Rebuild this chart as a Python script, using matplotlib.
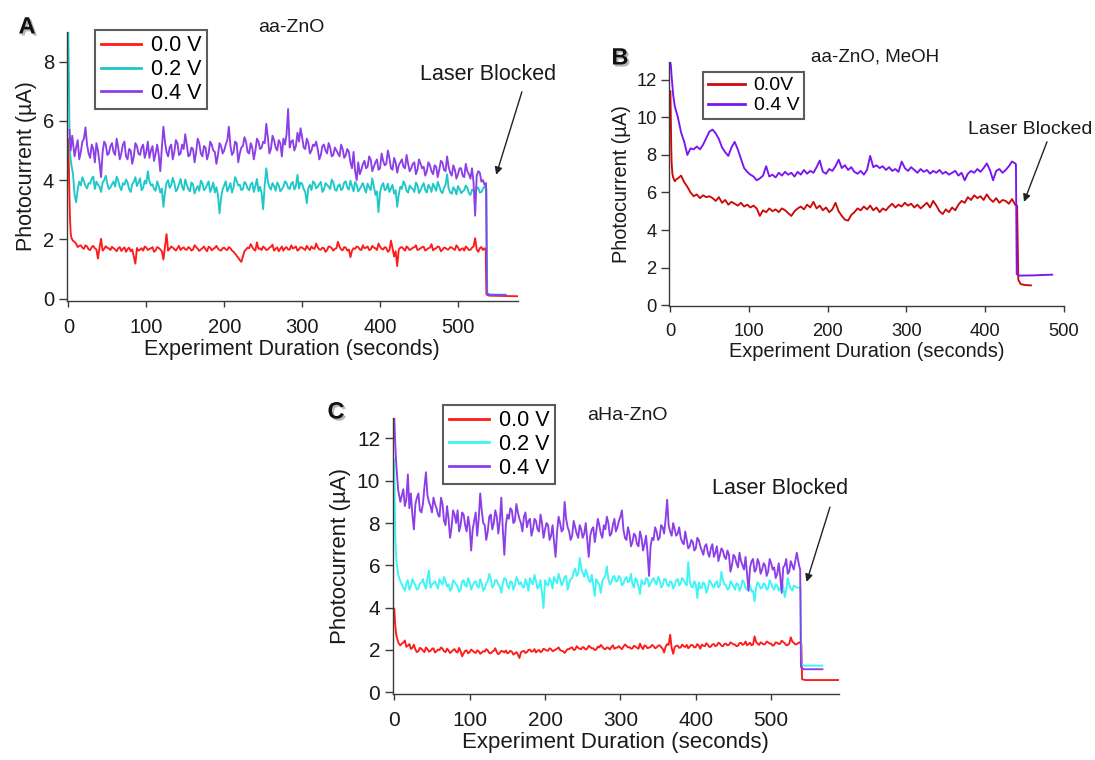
import numpy as np
import matplotlib.pyplot as plt
import matplotlib.patheffects as pe

plt.rcParams['font.family'] = ['Liberation Sans', 'DejaVu Sans']

W, H = 1095, 760

# ---------------- A: aa-ZnO (2 s samples from t = 8 s) ----------------
a_red_head_t = [0, 1, 2, 3, 4, 6]
a_red_head = [5.4, 4.0, 2.8, 2.2, 2.05, 1.95]
a_red = [1.92, 1.85, 1.74, 1.78, 1.80, 1.72, 1.68, 1.80, 1.76, 1.66, 1.64, 1.74,
         1.78, 1.70, 1.66, 1.35, 1.72, 2.02, 1.62, 1.68, 1.77, 1.72, 1.69, 1.64,
         1.75, 1.70, 1.66, 1.60, 1.70, 1.74, 1.61, 1.68, 1.73, 1.58, 1.67, 1.72,
         1.60, 1.66, 1.42, 1.18, 1.71, 1.62, 1.65, 1.70, 1.62, 1.76, 1.72, 1.64,
         1.68, 1.70, 1.74, 1.58, 1.63, 1.74, 1.71, 1.66, 1.60, 1.32, 1.75, 2.18,
         1.62, 1.68, 1.76, 1.72, 1.67, 1.62, 1.70, 1.78, 1.64, 1.70, 1.73, 1.66,
         1.65, 1.74, 1.70, 1.62, 1.66, 1.80, 1.74, 1.68, 1.61, 1.66, 1.70, 1.76,
         1.67, 1.60, 1.75, 1.72, 1.63, 1.68, 1.71, 1.78, 1.69, 1.64, 1.62, 1.70,
         1.72, 1.66, 1.64, 1.74, 1.70, 1.62, 1.58, 1.52, 1.45, 1.38, 1.30, 1.24,
         1.42, 1.60, 1.66, 1.72, 1.70, 1.84, 1.74, 1.66, 1.62, 1.90, 1.68, 1.70,
         1.64, 1.76, 1.71, 1.64, 1.66, 1.72, 1.75, 1.82, 1.62, 1.68, 1.73, 1.60,
         1.68, 1.76, 1.62, 1.70, 1.74, 1.66, 1.65, 1.80, 1.69, 1.72, 1.76, 1.62,
         1.66, 1.74, 1.72, 1.68, 1.64, 1.78, 1.70, 1.64, 1.76, 1.70, 1.68, 1.86,
         1.73, 1.66, 1.65, 1.72, 1.70, 1.58, 1.64, 1.76, 1.75, 1.70, 1.62, 1.68,
         1.70, 1.92, 1.75, 1.66, 1.63, 1.74, 1.72, 1.62, 1.66, 1.40, 1.62, 1.70,
         1.68, 1.76, 1.74, 1.66, 1.64, 1.80, 1.70, 1.72, 1.76, 1.64, 1.66, 1.78,
         1.72, 1.70, 1.64, 1.86, 1.75, 1.68, 1.66, 1.74, 1.71, 1.58, 1.63, 1.96,
         1.70, 1.42, 1.60, 1.10, 1.66, 1.72, 1.74, 1.68, 1.62, 1.76, 1.71, 1.64,
         1.67, 1.72, 1.73, 1.80, 1.64, 1.66, 1.70, 1.74, 1.75, 1.62, 1.66, 1.70,
         1.72, 1.84, 1.63, 1.68, 1.70, 1.76, 1.74, 1.60, 1.65, 1.72, 1.71, 1.66,
         1.66, 1.74, 1.72, 1.68, 1.64, 1.80, 1.73, 1.62, 1.67, 1.70, 1.62, 1.76,
         1.71, 1.64, 1.65, 1.72, 1.76, 2.04, 1.66, 1.58, 1.70, 1.74, 1.64, 1.70]
a_red_tail_t = [535.5, 536.5, 540, 577]
a_red_tail = [1.66, 0.14, 0.10, 0.08]

a_cyan_head_t = [0, 0.5, 1, 1.5, 2, 3, 4, 6]
a_cyan_head = [9.0, 8.0, 6.8, 5.6, 5.0, 4.7, 4.5, 4.2]
a_cyan = [3.50, 3.25, 3.70, 3.95, 3.82, 4.10, 3.96, 3.80, 3.72, 3.90, 3.88, 4.05,
          4.12, 3.70, 3.95, 3.85, 3.78, 3.60, 3.92, 4.00, 4.15, 3.88, 3.70, 3.75,
          3.86, 3.95, 3.78, 4.12, 3.98, 3.78, 3.66, 3.90, 3.84, 4.02, 3.92, 3.70,
          3.60, 3.86, 3.94, 4.10, 3.80, 3.92, 4.06, 3.66, 3.74, 3.98, 3.88, 4.30,
          3.96, 3.82, 3.86, 3.70, 3.64, 3.96, 3.80, 3.58, 3.72, 3.10, 3.58, 3.90,
          4.00, 3.74, 3.82, 4.08, 3.90, 3.62, 3.70, 3.86, 4.04, 3.78, 3.66, 4.02,
          3.84, 3.70, 3.62, 3.92, 3.86, 3.55, 3.70, 3.80, 3.64, 3.98, 3.90, 3.66,
          3.72, 3.84, 3.96, 3.60, 3.74, 3.92, 3.58, 3.76, 3.50, 2.88, 3.40, 3.70,
          3.82, 3.96, 3.62, 3.74, 3.90, 3.58, 3.76, 4.10, 3.98, 3.82, 3.84, 3.66,
          3.70, 3.94, 3.88, 3.72, 3.66, 3.86, 3.92, 3.60, 3.80, 4.04, 3.62, 3.78,
          3.56, 3.02, 3.84, 4.40, 3.96, 3.76, 3.68, 3.90, 3.80, 3.64, 3.92, 3.82,
          3.62, 3.70, 3.78, 3.96, 3.90, 3.74, 3.70, 3.88, 3.94, 3.68, 3.80, 4.18,
          3.72, 3.92, 3.88, 3.70, 3.60, 3.22, 3.74, 3.84, 3.66, 3.96, 3.90, 3.72,
          3.78, 3.86, 3.94, 3.60, 3.68, 3.90, 3.84, 3.78, 3.70, 4.02, 3.92, 3.68,
          3.64, 3.80, 3.86, 3.66, 3.72, 3.92, 3.96, 3.74, 3.68, 3.98, 3.80, 3.62,
          3.94, 3.84, 3.62, 3.70, 3.80, 3.90, 3.72, 3.58, 3.88, 3.76, 3.66, 4.06,
          3.80, 3.50, 3.62, 2.92, 3.58, 3.80, 3.90, 3.66, 3.70, 3.88, 3.60, 3.72,
          3.84, 3.54, 3.66, 3.10, 3.52, 3.78, 3.70, 3.96, 3.86, 3.64, 3.58, 3.82,
          3.74, 3.70, 3.60, 3.92, 3.82, 3.56, 3.66, 3.80, 3.90, 3.66, 3.58, 3.84,
          3.76, 3.60, 3.88, 3.76, 3.64, 3.94, 3.80, 3.62, 3.56, 3.74, 3.84, 4.20,
          3.72, 3.58, 3.54, 3.76, 3.68, 3.52, 3.80, 3.70, 3.56, 3.62, 3.66, 3.82,
          3.74, 3.56, 3.50, 3.68, 3.64, 3.50, 3.76, 3.74, 3.58, 3.60, 3.70, 3.80]
a_cyan_tail_t = [536.5, 537.5, 541, 561]
a_cyan_tail = [3.70, 0.18, 0.14, 0.13]

a_purp_head_t = [1.5, 3, 5]
a_purp_head = [5.7, 5.0, 5.5]
a_purp = [4.80, 5.10, 5.35, 4.70, 4.95, 5.30, 5.40, 5.78, 5.20, 4.90, 4.75, 5.20,
          5.05, 4.60, 5.25, 5.00, 4.60, 4.10, 4.95, 5.30, 5.20, 4.85, 4.90, 5.15,
          5.25, 4.95, 4.85, 5.40, 5.10, 4.70, 4.90, 5.20, 5.30, 4.80, 4.70, 5.05,
          5.00, 4.55, 4.80, 5.25, 5.15, 4.90, 4.85, 5.10, 5.20, 4.75, 4.95, 5.30,
          4.75, 5.00, 5.15, 4.65, 4.90, 5.20, 4.85, 4.30, 5.10, 5.80, 5.30, 4.95,
          4.80, 5.10, 5.20, 4.70, 4.95, 5.35, 5.25, 4.85, 4.90, 5.20, 5.05, 5.55,
          5.20, 4.80, 4.85, 5.10, 5.05, 4.60, 4.95, 5.40, 5.25, 4.90, 4.80, 5.15,
          5.10, 4.70, 4.90, 5.30, 5.20, 5.00, 4.95, 4.55, 4.85, 5.25, 5.15, 4.90,
          5.00, 5.20, 5.35, 5.80, 5.15, 4.85, 4.95, 5.30, 5.25, 4.60, 4.90, 5.10,
          5.15, 5.45, 5.30, 4.95, 4.90, 5.25, 5.10, 4.70, 5.00, 5.40, 5.30, 5.05,
          5.10, 5.30, 5.25, 5.90, 5.45, 4.90, 5.05, 5.50, 5.35, 5.10, 5.00, 5.35,
          5.25, 4.80, 5.40, 5.20, 5.55, 6.40, 5.10, 5.30, 5.35, 5.00, 5.15, 5.60,
          5.30, 5.75, 5.45, 5.10, 5.05, 5.40, 5.25, 4.90, 5.00, 5.20, 5.15, 5.30,
          5.05, 4.70, 4.85, 5.15, 5.20, 5.00, 4.90, 5.25, 5.10, 4.80, 4.85, 5.10,
          5.00, 4.90, 4.80, 5.20, 5.05, 4.75, 4.85, 5.05, 4.95, 4.60, 4.40, 4.95,
          4.30, 4.00, 4.60, 4.20, 4.35, 4.55, 4.65, 4.40, 4.45, 4.80, 4.70, 4.30,
          4.45, 4.60, 4.70, 4.35, 4.40, 4.90, 4.65, 4.50, 4.55, 5.00, 4.75, 4.40,
          4.35, 4.75, 4.60, 4.25, 4.50, 4.60, 4.70, 4.45, 4.40, 4.85, 4.55, 4.30,
          4.40, 4.55, 4.60, 4.20, 4.35, 4.70, 4.55, 4.40, 4.45, 4.15, 4.30, 4.60,
          4.50, 4.30, 4.20, 4.50, 4.45, 4.10, 4.35, 4.65, 4.60, 4.35, 4.30, 4.80,
          4.45, 4.25, 4.15, 4.50, 4.35, 4.05, 4.20, 4.40, 4.40, 4.15, 4.10, 4.55,
          4.30, 4.20, 4.05, 4.40, 3.90, 2.80, 4.15, 4.30, 4.25, 3.95, 4.00, 3.85]
a_purp_tail_t = [536, 537, 541, 561]
a_purp_tail = [3.90, 0.16, 0.12, 0.12]

# ---------------- B: aa-ZnO, MeOH (4 s samples from t = 10 s) ----------------
b_red_head_t = [0, 0.5, 1, 1.5, 2, 3, 4, 6, 8]
b_red_head = [11.4, 11.4, 10.0, 8.5, 7.6, 7.0, 6.8, 6.6, 6.7]
b_red = [6.75, 6.90, 6.55, 6.30, 6.00, 5.80, 5.90, 5.70, 5.85, 5.75, 5.80, 5.70,
         5.55, 5.75, 5.45, 5.60, 5.35, 5.50, 5.40, 5.30, 5.45, 5.25, 5.35, 5.20,
         5.30, 5.15, 4.75, 5.05, 4.95, 5.15, 5.00, 5.10, 4.95, 5.15, 5.05, 4.90,
         4.75, 5.00, 5.15, 5.25, 5.10, 5.35, 5.20, 5.50, 5.15, 5.30, 5.05, 5.20,
         4.95, 5.10, 5.45, 5.00, 4.75, 4.55, 4.50, 4.80, 4.95, 5.15, 5.05, 5.25,
         5.10, 5.30, 5.05, 5.20, 4.95, 5.15, 5.05, 5.25, 5.40, 5.20, 5.35, 5.25,
         5.45, 5.30, 5.40, 5.20, 5.35, 5.15, 5.30, 5.45, 5.20, 5.55, 5.30, 5.00,
         4.85, 5.10, 4.95, 5.20, 5.05, 5.35, 5.55, 5.45, 5.75, 5.60, 5.85, 5.70,
         5.80, 5.60, 5.90, 5.65, 5.50, 5.70, 5.45, 5.60, 5.55, 5.40, 5.65, 5.35]
b_red_tail_t = [440.5, 442, 445, 450, 458]
b_red_tail = [5.30, 1.35, 1.12, 1.07, 1.05]

b_vio_head_t = [0, 1, 2, 4, 6, 8]
b_vio_head = [13.0, 12.8, 12.2, 11.2, 10.6, 10.3]
b_vio = [10.0, 9.20, 8.70, 8.00, 8.35, 8.30, 8.45, 8.30, 8.55, 8.90, 9.25, 9.35,
         9.15, 8.85, 8.40, 8.15, 7.95, 8.40, 8.70, 8.30, 7.80, 7.30, 7.10, 6.95,
         6.85, 6.65, 6.75, 6.90, 7.40, 6.85, 6.95, 6.80, 7.05, 6.90, 7.10, 6.95,
         7.05, 6.85, 7.10, 6.95, 7.20, 7.00, 7.15, 7.05, 7.35, 7.70, 7.10, 7.00,
         7.25, 7.15, 7.40, 7.75, 7.30, 7.45, 7.20, 7.35, 7.10, 7.00, 7.15, 6.95,
         7.20, 7.95, 7.35, 7.45, 7.30, 7.40, 7.20, 7.35, 7.15, 7.25, 7.10, 7.65,
         7.30, 7.15, 7.35, 7.20, 7.05, 7.25, 7.10, 7.20, 7.00, 7.15, 7.05, 7.20,
         7.00, 7.10, 6.95, 7.05, 7.15, 6.90, 7.05, 6.65, 7.00, 7.15, 7.05, 7.25,
         7.10, 7.30, 7.55, 7.20, 6.65, 7.15, 7.25, 7.05, 7.20, 7.40, 7.65, 7.55]
b_vio_tail_t = [439, 440, 443, 460, 485]
b_vio_tail = [7.50, 1.65, 1.57, 1.58, 1.62]

# ---------------- C: aHa-ZnO (2 s samples from t = 8 s) ----------------
c_red_head_t = [0, 1, 2, 3, 5, 6]
c_red_head = [3.95, 3.3, 2.9, 2.65, 2.4, 2.3]
c_red = [2.22, 2.30, 2.35, 2.45, 2.15, 2.20, 2.28, 2.05, 2.10, 2.25, 2.02, 1.90,
         1.95, 2.10, 2.06, 1.98, 1.90, 2.12, 2.04, 1.92, 1.96, 2.05, 2.08, 1.88,
         1.94, 2.02, 2.00, 2.12, 2.06, 1.94, 1.90, 2.06, 1.98, 1.86, 1.92, 2.00,
         2.04, 1.92, 1.88, 2.10, 1.94, 1.70, 1.84, 1.96, 1.98, 1.84, 1.90, 2.02,
         1.96, 1.90, 1.86, 1.98, 1.94, 1.82, 1.88, 1.94, 1.92, 2.04, 1.98, 1.86,
         1.84, 1.92, 1.96, 2.08, 1.90, 1.80, 1.86, 1.96, 1.94, 1.88, 1.98, 1.84,
         1.88, 1.96, 1.92, 1.78, 1.84, 1.90, 1.78, 1.62, 1.88, 1.94, 1.96, 1.86,
         1.90, 2.00, 2.02, 1.92, 1.94, 2.04, 1.88, 1.96, 2.00, 1.90, 1.94, 2.06,
         2.02, 1.98, 1.96, 2.08, 2.04, 1.94, 1.98, 2.02, 2.06, 2.12, 2.00, 1.96,
         1.94, 1.86, 1.96, 2.04, 2.04, 2.10, 2.12, 2.00, 2.02, 2.18, 2.10, 2.06,
         2.04, 2.14, 2.10, 2.02, 2.06, 2.20, 2.14, 2.08, 2.08, 2.00, 2.02, 2.16,
         2.12, 2.24, 2.16, 2.06, 2.04, 2.12, 2.10, 2.02, 2.14, 2.22, 2.06, 2.10,
         2.12, 2.18, 2.10, 2.04, 2.16, 2.26, 2.20, 2.12, 2.14, 2.06, 2.08, 2.20,
         2.16, 2.10, 2.06, 2.30, 2.14, 2.04, 2.22, 2.18, 2.08, 2.12, 2.14, 2.24,
         2.18, 2.08, 2.12, 2.20, 2.22, 2.14, 2.06, 1.88, 2.16, 2.28, 2.24, 2.72,
         2.10, 1.82, 2.14, 2.20, 2.20, 2.10, 2.12, 2.26, 2.18, 2.14, 2.24, 2.08,
         2.16, 2.24, 2.22, 2.12, 2.14, 2.28, 2.20, 2.06, 2.26, 2.20, 2.18, 2.32,
         2.24, 2.14, 2.16, 2.26, 2.28, 2.18, 2.22, 2.34, 2.30, 2.20, 2.18, 2.28,
         2.30, 2.22, 2.24, 2.36, 2.32, 2.26, 2.26, 2.18, 2.20, 2.32, 2.34, 2.24,
         2.28, 2.40, 2.22, 2.28, 2.34, 2.22, 2.26, 2.64, 2.38, 2.30, 2.24, 2.36,
         2.32, 2.26, 2.28, 2.40, 2.36, 2.30, 2.30, 2.20, 2.24, 2.36, 2.34, 2.28,
         2.30, 2.44, 2.38, 2.32, 2.22, 2.24, 2.30, 2.60, 2.40, 2.34, 2.26, 2.28]
c_red_tail_t = [537, 540, 541, 545, 590]
c_red_tail = [2.36, 2.30, 0.62, 0.58, 0.58]

c_cyan_head_t = [0, 0.7, 1.3, 2, 3, 4, 5, 6.5]
c_cyan_head = [11.0, 9.2, 7.5, 6.7, 6.2, 5.9, 5.6, 5.4]
c_cyan = [5.25, 5.10, 4.95, 4.80, 5.15, 5.30, 4.85, 5.00, 5.35, 5.20, 5.05, 4.85,
          4.90, 5.15, 5.20, 5.35, 5.05, 4.90, 5.40, 5.75, 4.95, 5.10, 5.15, 5.25,
          5.05, 4.90, 5.35, 5.20, 5.10, 5.45, 5.25, 5.00, 5.10, 4.80, 4.90, 5.30,
          5.20, 5.10, 5.00, 4.75, 4.85, 5.25, 5.30, 5.05, 5.00, 5.40, 5.20, 4.85,
          5.05, 5.20, 5.25, 5.00, 4.95, 5.35, 5.15, 4.80, 4.90, 5.15, 5.25, 5.60,
          5.35, 4.95, 5.05, 5.30, 5.30, 5.10, 5.00, 4.70, 5.15, 5.40, 5.35, 5.05,
          4.90, 5.25, 5.20, 4.85, 5.05, 5.45, 5.30, 5.10, 5.20, 5.00, 4.95, 5.35,
          5.15, 4.80, 5.40, 5.20, 5.10, 5.55, 5.25, 4.90, 5.00, 5.30, 4.70, 3.98,
          5.30, 5.10, 5.05, 5.40, 5.25, 4.90, 5.45, 5.30, 5.15, 5.60, 5.35, 5.05,
          5.20, 5.45, 5.50, 4.85, 5.15, 5.35, 5.40, 5.70, 5.85, 5.50, 5.60, 6.35,
          5.90, 5.65, 5.45, 5.80, 5.60, 5.30, 5.20, 5.55, 5.05, 4.55, 5.35, 5.20,
          5.10, 4.70, 5.25, 5.40, 5.50, 5.95, 5.35, 5.10, 5.20, 5.45, 5.50, 5.25,
          5.25, 5.50, 5.40, 5.05, 5.15, 5.35, 5.45, 5.20, 5.25, 5.60, 5.10, 4.95,
          5.40, 5.30, 5.00, 4.65, 5.30, 5.15, 5.10, 5.40, 5.35, 5.00, 5.15, 5.30,
          5.40, 5.20, 5.10, 5.45, 5.30, 4.95, 5.05, 5.35, 5.35, 5.10, 5.00, 5.25,
          5.20, 4.90, 5.05, 5.30, 5.35, 5.05, 5.15, 5.40, 5.30, 5.15, 5.05, 6.15,
          5.25, 5.00, 4.95, 5.25, 5.10, 4.45, 5.20, 4.90, 4.95, 5.20, 5.10, 4.70,
          4.90, 5.30, 5.20, 5.05, 4.95, 5.15, 5.25, 4.95, 5.05, 5.70, 5.30, 5.10,
          5.05, 4.85, 4.90, 5.25, 5.15, 5.00, 4.85, 5.15, 5.10, 4.80, 4.95, 5.30,
          5.20, 4.95, 4.85, 5.10, 5.05, 4.75, 4.80, 4.30, 4.95, 5.20, 5.10, 4.90,
          4.95, 5.15, 5.10, 4.85, 4.90, 5.30, 5.15, 4.95, 4.85, 5.10, 5.05, 4.80,
          4.90, 5.20, 5.00, 4.50, 4.85, 5.40, 5.10, 4.90, 4.80, 5.05, 5.00, 4.95]
c_cyan_tail_t = [537, 539, 540, 544, 568]
c_cyan_tail = [4.95, 4.90, 1.32, 1.26, 1.26]

c_purp_head_t = [0, 1, 2, 3, 5, 6.5]
c_purp_head = [13.0, 12.0, 11.2, 10.6, 9.6, 9.3]
c_purp = [9.00, 9.30, 9.60, 8.80, 9.10, 10.30, 8.70, 9.40, 8.40, 7.70, 8.90, 9.20,
          9.40, 8.60, 8.50, 8.90, 9.70, 10.40, 9.30, 9.00, 8.80, 8.50, 9.20, 8.90,
          8.70, 8.40, 8.30, 9.20, 8.90, 8.10, 7.90, 8.80, 8.20, 7.30, 7.80, 8.60,
          8.40, 8.00, 8.60, 7.60, 7.90, 8.50, 8.40, 7.90, 7.60, 8.30, 7.80, 6.70,
          7.70, 8.10, 8.50, 7.40, 8.20, 9.40, 8.60, 8.00, 7.90, 7.20, 7.60, 8.30,
          8.40, 7.70, 8.00, 8.60, 8.30, 7.50, 8.10, 9.20, 7.70, 6.50, 7.90, 8.40,
          8.20, 8.70, 8.60, 8.00, 8.10, 8.90, 8.50, 8.20, 8.00, 7.60, 8.30, 8.50,
          7.80, 8.10, 8.20, 7.40, 7.70, 8.20, 8.10, 7.70, 7.60, 8.40, 8.00, 7.30,
          7.70, 8.00, 7.90, 7.20, 7.40, 7.90, 7.10, 6.40, 7.60, 8.30, 8.00, 7.60,
          7.70, 9.00, 8.20, 7.80, 7.60, 7.20, 7.40, 8.10, 7.80, 7.50, 7.30, 7.90,
          7.70, 7.30, 7.50, 8.00, 7.20, 6.40, 7.40, 7.70, 7.80, 7.10, 7.60, 8.20,
          7.90, 7.50, 7.30, 7.90, 7.70, 8.30, 8.00, 7.40, 7.50, 7.90, 8.20, 7.60,
          7.80, 8.10, 8.30, 8.60, 7.70, 7.30, 7.20, 7.80, 7.50, 6.90, 7.10, 7.50,
          7.40, 7.00, 6.90, 7.60, 7.30, 6.70, 7.00, 7.40, 6.60, 5.50, 6.90, 7.30,
          7.20, 7.80, 7.60, 7.20, 7.30, 7.90, 7.80, 7.50, 8.20, 9.10, 7.90, 7.60,
          7.40, 8.00, 7.70, 7.40, 7.50, 7.80, 7.30, 7.10, 7.00, 7.60, 7.20, 6.80,
          6.90, 7.20, 7.10, 6.70, 6.80, 7.30, 7.20, 6.90, 6.70, 6.50, 6.90, 7.00,
          6.60, 6.40, 6.80, 7.00, 6.40, 6.60, 6.90, 6.20, 6.50, 6.80, 6.70, 6.40,
          6.30, 6.70, 6.50, 5.70, 6.00, 6.50, 6.40, 6.10, 5.90, 6.60, 6.20, 6.00,
          5.80, 6.40, 5.60, 4.80, 5.90, 6.20, 6.30, 5.70, 5.80, 6.30, 6.10, 5.60,
          5.80, 6.10, 6.00, 5.50, 5.70, 6.30, 6.10, 5.80, 5.90, 5.40, 5.60, 6.10,
          5.50, 4.70, 5.90, 6.00, 6.30, 5.60, 5.70, 6.20, 6.00, 5.80, 6.20, 6.60]
c_purp_tail_t = [537, 538.5, 539.5, 543, 568]
c_purp_tail = [6.00, 5.80, 1.20, 1.09, 1.09]

labels3 = ['0.0 V', '0.2 V', '0.4 V']
labels2 = ['0.0V', '0.4 V']


def trace(head_t, head_y, body, tail_t, tail_y, t0, step):
    body_t = t0 + step * np.arange(len(body))
    t = np.concatenate([head_t, body_t, tail_t])
    y = np.concatenate([head_y, body, tail_y])
    return t, y


def px_axes(left, top, right, bottom):
    # axes placed from pixel edges of the figure
    return fig.add_axes([left / W, 1 - bottom / H, (right - left) / W, (bottom - top) / H])


def style(ax, xlim, ylim, yticks, tick_fs, label_fs):
    ax.set_xlim(*xlim)
    ax.set_ylim(*ylim)
    ax.set_xticks([0, 100, 200, 300, 400, 500])
    ax.set_yticks(yticks)
    for s in ['top', 'right']:
        ax.spines[s].set_visible(False)
    for s in ['left', 'bottom']:
        ax.spines[s].set_color('#3a3a3a')
        ax.spines[s].set_linewidth(1.0)
    ax.tick_params(axis='y', direction='out', length=6, width=1, pad=3,
                   labelsize=tick_fs, colors='#3a3a3a', labelcolor='#1a1a1a')
    ax.tick_params(axis='x', direction='out', length=4, width=1, pad=8,
                   labelsize=tick_fs, colors='#3a3a3a', labelcolor='#1a1a1a')
    ax.set_xlabel('Experiment Duration (seconds)', fontsize=label_fs, color='#1a1a1a', labelpad=2)
    ax.set_ylabel('Photocurrent (µA)', fontsize=label_fs, color='#1a1a1a', labelpad=4)


def legend(ax, anchor, fs):
    leg = ax.legend(loc='upper left', bbox_to_anchor=anchor, fontsize=fs,
                    frameon=True, fancybox=False, borderaxespad=0, handlelength=1.9,
                    handletextpad=0.45, labelspacing=0.12, borderpad=0.25)
    leg.get_frame().set_edgecolor('#333333')
    leg.get_frame().set_linewidth(1.5)
    for h in leg.get_lines():
        h.set_linewidth(2)


def laser_arrow(ax, text_xy, start, end, fs):
    fig.text(text_xy[0] / W, 1 - text_xy[1] / H, 'Laser Blocked', fontsize=fs,
             ha='left', va='center', color='#1a1a1a')
    ax.annotate('', xy=end, xytext=start, annotation_clip=False,
                arrowprops=dict(arrowstyle='-|>', color='#222222', lw=1.0,
                                mutation_scale=11, shrinkA=0, shrinkB=0))


def panel_letter(x, y, s):
    fig.text(x / W, 1 - y / H, s, fontsize=17, fontweight='bold', ha='center', va='center',
             color='#111111',
             path_effects=[pe.withSimplePatchShadow(offset=(1.5, -1.5), shadow_rgbFace='#888888', alpha=0.6)])


fig = plt.figure(figsize=(W / 100, H / 100), dpi=100)
lw = 1.35

# ---- panel A ----
axA = px_axes(66.7, 32, 518, 301)
colsA = ['#ff1a1a', '#1ec8c8', '#8c3fe6']
tracesA = [trace(a_red_head_t, a_red_head, a_red, a_red_tail_t, a_red_tail, 8, 2),
           trace(a_cyan_head_t, a_cyan_head, a_cyan, a_cyan_tail_t, a_cyan_tail, 8, 2),
           trace(a_purp_head_t, a_purp_head, a_purp, a_purp_tail_t, a_purp_tail, 8, 2)]
for (t, y), c, lab in zip(tracesA, colsA, labels3):
    axA.plot(t, y, color=c, lw=lw, label=lab)
style(axA, (-2.1, 577), (-0.08, 9.0), [0, 2, 4, 6, 8], 14.5, 15.5)
legend(axA, (0.063, 1.007), 15.5)
fig.text(291 / W, 1 - 28 / H, 'aa-ZnO', fontsize=14, ha='center', va='center', color='#1a1a1a')
laser_arrow(axA, (420, 75), (582, 6.98), (549, 4.18), 15.5)
panel_letter(27, 27, 'A')

# ---- panel B ----
axB = px_axes(669, 61.7, 1064, 306)
colsB = ['#cc0a0a', '#7a14f0']
tracesB = [trace(b_red_head_t, b_red_head, b_red, b_red_tail_t, b_red_tail, 10, 4),
           trace(b_vio_head_t, b_vio_head, b_vio, b_vio_tail_t, b_vio_tail, 10, 4)]
for (t, y), c, lab in zip(tracesB, colsB, labels2):
    axB.plot(t, y, color=c, lw=lw, label=lab)
style(axB, (-1.3, 500), (-0.05, 12.97), [0, 2, 4, 6, 8, 10, 12], 13.2, 14.4)
legend(axB, (0.086, 0.958), 14)
fig.text(875 / W, 1 - 57 / H, 'aa-ZnO, MeOH', fontsize=13.5, ha='center', va='center', color='#1a1a1a')
laser_arrow(axB, (968, 129), (478.4, 8.7), (449.2, 5.5), 14)
panel_letter(620, 58, 'B')

# ---- panel C ----
axC = px_axes(392.7, 418.3, 839, 694)
colsC = ['#ff1a1a', '#3df5f5', '#8c3fe6']
tracesC = [trace(c_red_head_t, c_red_head, c_red, c_red_tail_t, c_red_tail, 8, 2),
           trace(c_cyan_head_t, c_cyan_head, c_cyan, c_cyan_tail_t, c_cyan_tail, 8, 2),
           trace(c_purp_head_t, c_purp_head, c_purp, c_purp_tail_t, c_purp_tail, 8, 2)]
for (t, y), c, lab in zip(tracesC, colsC, labels3):
    axC.plot(t, y, color=c, lw=lw, label=lab)
style(axC, (-2.1, 590), (-0.08, 12.95), [0, 2, 4, 6, 8, 10, 12], 15, 16)
legend(axC, (0.113, 1.048), 15.5)
fig.text(627 / W, 1 - 415 / H, 'aHa-ZnO', fontsize=14, ha='center', va='center', color='#1a1a1a')
laser_arrow(axC, (712, 488), (578, 8.75), (547, 5.22), 15.5)
panel_letter(336, 412, 'C')

fig.savefig('out.png', dpi=100)
